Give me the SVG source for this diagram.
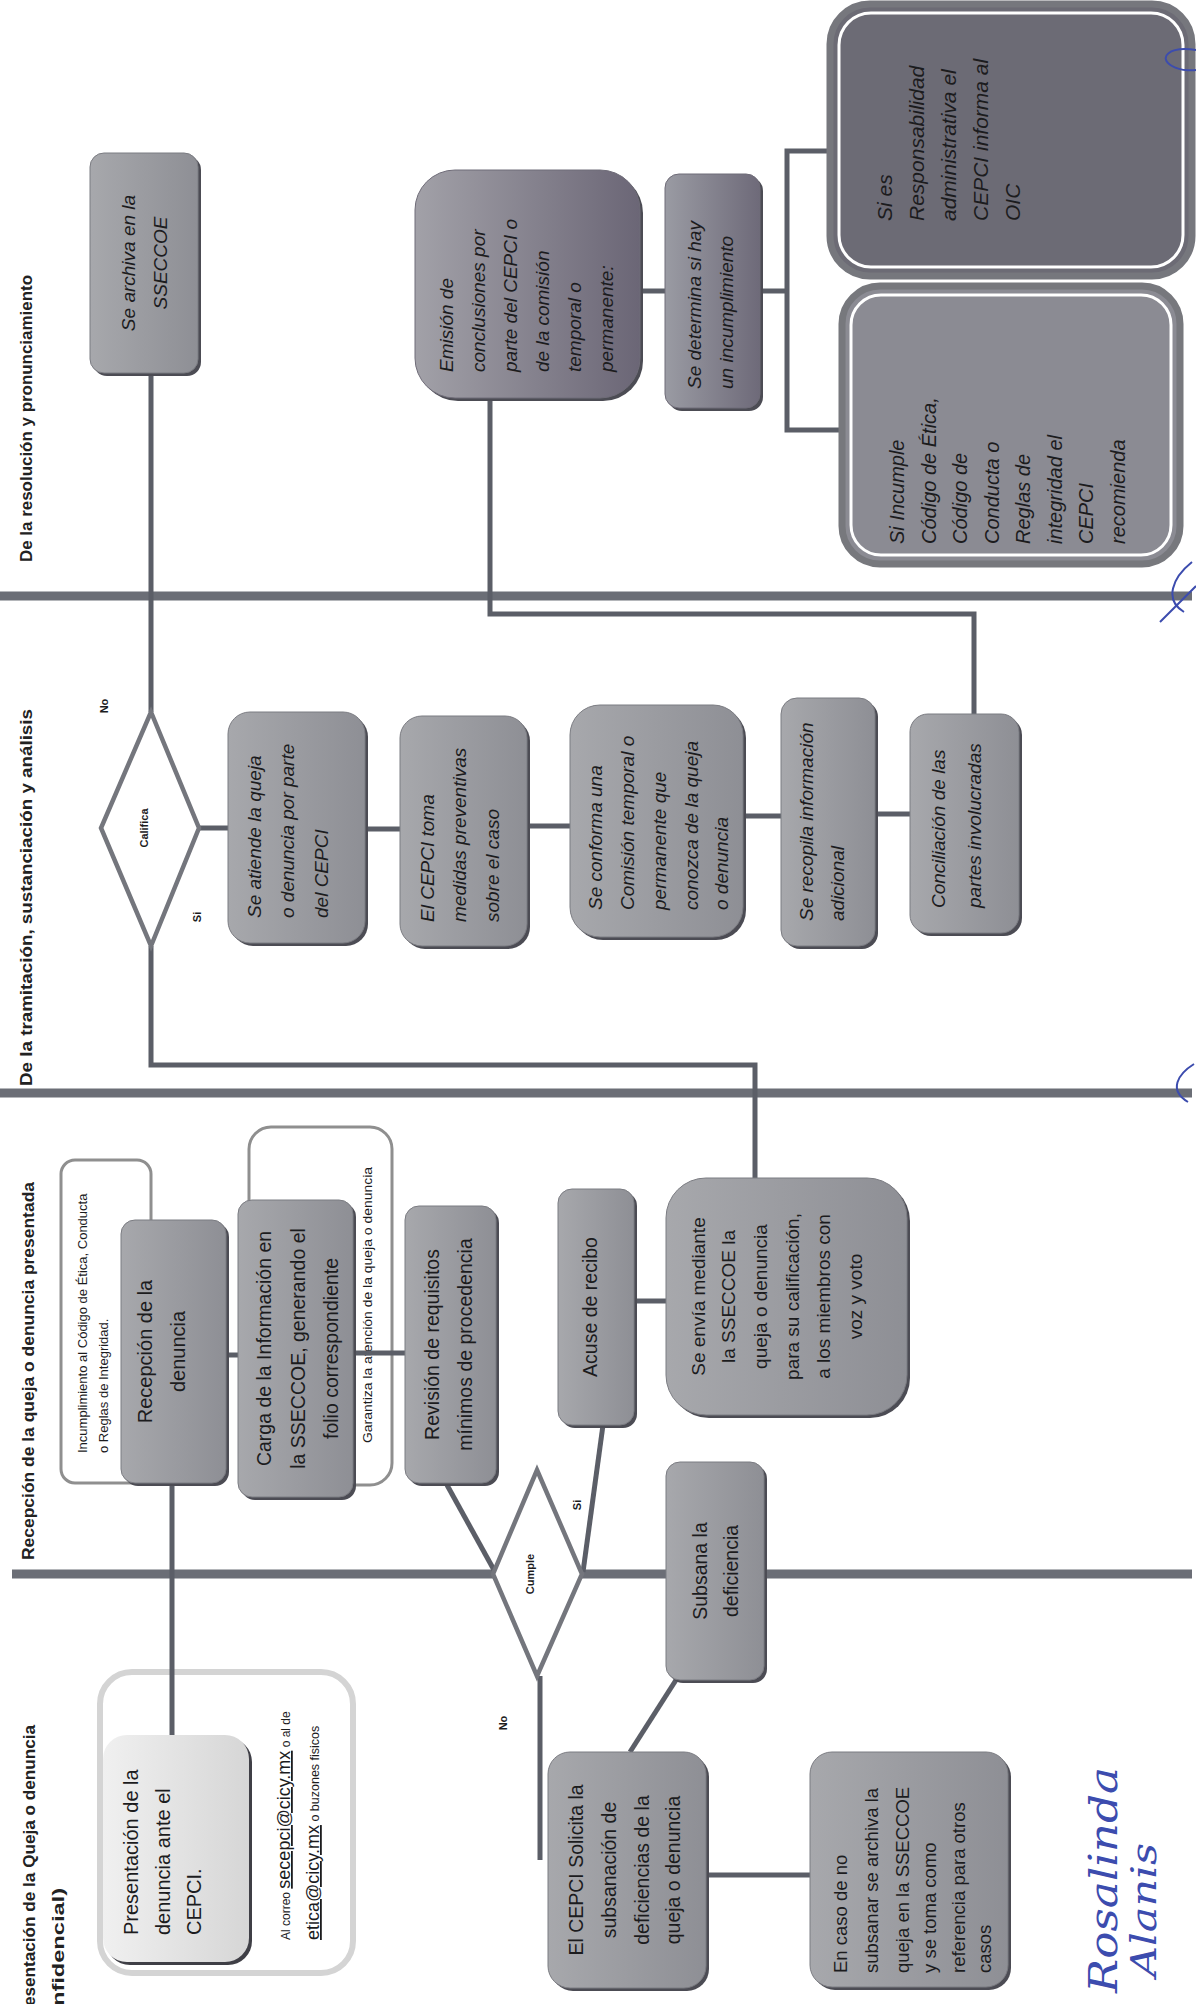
<svg xmlns="http://www.w3.org/2000/svg" width="1196" height="2004" viewBox="0 0 1196 2004">
<defs>
<linearGradient id="gBox" x1="0" y1="0" x2="1" y2="0"><stop offset="0" stop-color="#a7a8ac"/><stop offset="1" stop-color="#8e8f95"/></linearGradient>
<linearGradient id="gDark" x1="0" y1="0" x2="1" y2="0"><stop offset="0" stop-color="#a2a1a8"/><stop offset="1" stop-color="#6b6676"/></linearGradient>
<linearGradient id="gDet" x1="0" y1="0" x2="1" y2="0"><stop offset="0" stop-color="#9a9ba3"/><stop offset="1" stop-color="#6e6a79"/></linearGradient>
<linearGradient id="gLight" x1="0" y1="0" x2="1" y2="0"><stop offset="0" stop-color="#f0f0f0"/><stop offset="1" stop-color="#d6d6d6"/></linearGradient>
<style>
.t{font-family:"Liberation Sans",Arial,sans-serif;fill:#1c1c1e}
.i{font-style:italic}
.h{font-weight:bold;font-size:17px;fill:#222}
.lbl{font-weight:bold;font-size:11px}
.box{fill:url(#gBox);stroke:#7b7c82;stroke-width:1}
.sh{fill:#4c4c54}
.ln{stroke:#5b5e67;stroke-width:5;fill:none;stroke-linecap:butt;stroke-linejoin:miter}
.dv{stroke:#6b6e76;stroke-width:9}
.dia{fill:#fff;stroke:#74767d;stroke-width:4.5}
.note{fill:#fff;stroke:#8f8f8f;stroke-width:3}
.ink{stroke:#3c4cae;stroke-width:2;fill:none}
.sig{font-family:"DejaVu Serif",serif;font-style:italic;fill:#3c4cae}
</style>
</defs>
<rect width="1196" height="2004" fill="#fff"/>

<g id="lanes">
<line class="dv" x1="0" y1="596" x2="1192" y2="596"/>
<line class="dv" x1="0" y1="1093" x2="1192" y2="1093"/>
<line class="dv" x1="12" y1="1574" x2="1192" y2="1574"/>
<text class="t h" transform="translate(32,562) rotate(-90)" textLength="287" lengthAdjust="spacingAndGlyphs">De la resolución y pronunciamiento</text>
<text class="t h" transform="translate(32,1086) rotate(-90)" textLength="377" lengthAdjust="spacingAndGlyphs">De la tramitación, sustanciación y análisis</text>
<text class="t h" transform="translate(34,1560) rotate(-90)" textLength="378" lengthAdjust="spacingAndGlyphs">Recepción de la queja o denuncia presentada</text>
<text class="t h" transform="translate(35,2006) rotate(-90)" textLength="281" lengthAdjust="spacingAndGlyphs">esentación de la Queja o denuncia</text>
<text class="t h" transform="translate(64,2006) rotate(-90)" textLength="118" lengthAdjust="spacingAndGlyphs">nfidencial)</text>
</g>

<g id="n-incumplimiento">
<rect class="note" x="61" y="1160" width="90" height="323" rx="14"/>
<text class="t" font-size="13" transform="translate(106,1321.5) rotate(-90)"><tspan x="-131.5" y="-19.5">Incumplimiento al Código de Ética, Conducta</tspan><tspan x="-131.5" y="1.5">o Reglas de Integridad.</tspan></text>
</g>
<g id="n-garantiza">
<rect class="note" x="249" y="1127" width="143" height="358" rx="22"/>
<text class="t" font-size="13" text-anchor="middle" transform="translate(367,1305) rotate(-90)" y="4.5" textLength="276" lengthAdjust="spacingAndGlyphs">Garantiza la atención de la queja o denuncia</text>
</g>
<g id="n-presentacion-marco">
<rect x="100" y="1672" width="253" height="301" rx="32" fill="#fff" stroke="#d4d4d4" stroke-width="6"/>
<text class="t" transform="translate(290,1940) rotate(-90)"><tspan font-size="12">Al correo </tspan><tspan font-size="18" text-decoration="underline">secepci@cicy.mx</tspan><tspan font-size="12"> o al de</tspan></text>
<text class="t" transform="translate(319,1940) rotate(-90)"><tspan font-size="18" text-decoration="underline">etica@cicy.mx</tspan><tspan font-size="12.5">  o buzones fisicos</tspan></text>
</g>

<g id="connectors">
<path class="ln" d="M151 373 V712"/>
<path class="ln" d="M490 398 V614 H974 V714"/>
<path class="ln" d="M640 291 H665"/>
<path class="ln" d="M760 291 H787"/>
<path class="ln" d="M830 151 H787 V430 H842"/>
<path class="ln" d="M199 828 H228"/>
<path class="ln" d="M365 829 H400"/>
<path class="ln" d="M527 826 H570"/>
<path class="ln" d="M743 816 H781"/>
<path class="ln" d="M875 814 H910"/>
<path class="ln" d="M151 946 V1065 H755 V1178"/>
<path class="ln" d="M226 1355 H238"/>
<path class="ln" d="M353 1353 H405"/>
<path class="ln" d="M172 1483 V1735"/>
<path class="ln" d="M447 1485 L494 1570" stroke-width="6"/>
<path class="ln" d="M583 1572 L603 1425" stroke-width="6"/>
<path class="ln" d="M634 1301 H666"/>
<path class="ln" d="M540 1676 V1860"/>
<path class="ln" d="M676 1680 L630 1752"/>
<path class="ln" d="M706 1875 H810"/>
</g>

<g id="n-archiva">
<rect class="sh" x="93" y="156" width="108" height="220" rx="14"/>
<rect class="box" x="90" y="153" width="108" height="220" rx="14"/>
<text class="t i" font-size="19" text-anchor="middle" transform="translate(144,263) rotate(-90)"><tspan x="0" y="-9">Se archiva en la</tspan><tspan x="0" y="23">SSECCOE</tspan></text>
</g>
<g id="n-emision">
<rect class="sh" x="418" y="173" width="225" height="228" rx="40"/>
<rect x="415" y="170" width="225" height="228" rx="40" fill="url(#gDark)" stroke="#6f6c78" stroke-width="1"/>
<text class="t i" font-size="19" transform="translate(527,284) rotate(-90)"><tspan x="-88" y="-74">Emisión de</tspan><tspan x="-88" y="-42">conclusiones por</tspan><tspan x="-88" y="-10">parte del CEPCI o</tspan><tspan x="-88" y="22">de la comisión</tspan><tspan x="-88" y="54">temporal o</tspan><tspan x="-88" y="86">permanente:</tspan></text>
</g>
<g id="n-determina">
<rect class="sh" x="668" y="177" width="95" height="234" rx="14"/>
<rect x="665" y="174" width="95" height="234" rx="14" fill="url(#gDet)" stroke="#6f6c78" stroke-width="1"/>
<text class="t i" font-size="19" transform="translate(712,291) rotate(-90)"><tspan x="-98" y="-11">Se determina si hay</tspan><tspan x="-98" y="21">un incumplimiento</tspan></text>
</g>
<g id="n-responsabilidad">
<rect x="830" y="4" width="362" height="272" rx="40" fill="#6c6b75" stroke="#76777d" stroke-width="7"/>
<rect x="839" y="13" width="344" height="254" rx="32" fill="none" stroke="#fff" stroke-width="3"/>
<text class="t i" font-size="21" transform="translate(1011,140) rotate(-90)"><tspan x="-81" y="-119">Si es</tspan><tspan x="-81" y="-87">Responsabilidad</tspan><tspan x="-81" y="-55">administrativa el</tspan><tspan x="-81" y="-23">CEPCI informa al</tspan><tspan x="-81" y="9">OIC</tspan></text>
</g>
<g id="n-incumple">
<rect x="842" y="286" width="338" height="278" rx="38" fill="#8b8b93" stroke="#77787d" stroke-width="7"/>
<rect x="851" y="295" width="320" height="260" rx="30" fill="none" stroke="#fff" stroke-width="3"/>
<text class="t i" font-size="20" transform="translate(1011,425) rotate(-90)"><tspan x="-119" y="-107">Si Incumple</tspan><tspan x="-119" y="-75.5">Código de Ética,</tspan><tspan x="-119" y="-44">Código de</tspan><tspan x="-119" y="-12.5">Conducta o</tspan><tspan x="-119" y="19">Reglas de</tspan><tspan x="-119" y="50.5">integridad el</tspan><tspan x="-119" y="82">CEPCI</tspan><tspan x="-119" y="113.5">recomienda</tspan></text>
</g>

<g id="n-califica">
<polygon class="dia" points="151,712 199,828 151,946 101,828"/>
<text class="t lbl" text-anchor="middle" transform="translate(144,828) rotate(-90)" y="4">Califica</text>
<text class="t lbl" text-anchor="middle" transform="translate(104,706) rotate(-90)" y="4">No</text>
<text class="t lbl" text-anchor="middle" transform="translate(197,917) rotate(-90)" y="4">Si</text>
</g>
<g id="n-atiende">
<rect class="sh" x="231" y="715" width="137" height="231" rx="22"/>
<rect class="box" x="228" y="712" width="137" height="231" rx="22"/>
<text class="t i" font-size="19" transform="translate(296.5,827.5) rotate(-90)"><tspan x="-90.5" y="-36">Se atiende la queja</tspan><tspan x="-90.5" y="-3">o denuncia por parte</tspan><tspan x="-90.5" y="31">del CEPCI</tspan></text>
</g>
<g id="n-medidas">
<rect class="sh" x="403" y="719" width="127" height="230" rx="22"/>
<rect class="box" x="400" y="716" width="127" height="230" rx="22"/>
<text class="t i" font-size="19" transform="translate(463.5,831) rotate(-90)"><tspan x="-91" y="-30">El CEPCI toma</tspan><tspan x="-91" y="2">medidas preventivas</tspan><tspan x="-91" y="35">sobre el caso</tspan></text>
</g>
<g id="n-comision">
<rect class="sh" x="573" y="708" width="173" height="232" rx="30"/>
<rect class="box" x="570" y="705" width="173" height="232" rx="30"/>
<text class="t i" font-size="19" transform="translate(656.5,821) rotate(-90)"><tspan x="-89" y="-55">Se conforma una</tspan><tspan x="-89" y="-23">Comisión temporal o</tspan><tspan x="-89" y="9">permanente que</tspan><tspan x="-89" y="41">conozca de la queja</tspan><tspan x="-89" y="71">o denuncia</tspan></text>
</g>
<g id="n-recopila">
<rect class="sh" x="784" y="701" width="94" height="248" rx="16"/>
<rect class="box" x="781" y="698" width="94" height="248" rx="16"/>
<text class="t i" font-size="19" transform="translate(828,822) rotate(-90)"><tspan x="-99" y="-15">Se recopila información</tspan><tspan x="-99" y="16">adicional</tspan></text>
</g>
<g id="n-conciliacion">
<rect class="sh" x="913" y="717" width="109" height="219" rx="18"/>
<rect class="box" x="910" y="714" width="109" height="219" rx="18"/>
<text class="t i" font-size="19" transform="translate(964.5,823.5) rotate(-90)"><tspan x="-84.5" y="-20">Conciliación de las</tspan><tspan x="-84.5" y="16">partes involucradas</tspan></text>
</g>

<g id="n-recepcion">
<rect class="sh" x="124" y="1223" width="105" height="263" rx="14"/>
<rect class="box" x="121" y="1220" width="105" height="263" rx="14"/>
<text class="t" font-size="20" text-anchor="middle" transform="translate(173.5,1351.5) rotate(-90)"><tspan x="0" y="-21.5">Recepción de la</tspan><tspan x="0" y="11.5">denuncia</tspan></text>
</g>
<g id="n-carga">
<rect class="sh" x="241" y="1203" width="115" height="297" rx="14"/>
<rect class="box" x="238" y="1200" width="115" height="297" rx="14"/>
<text class="t" font-size="19.5" text-anchor="middle" transform="translate(295.5,1348.5) rotate(-90)"><tspan x="0" y="-25">Carga de la Información en</tspan><tspan x="0" y="9">la SSECCOE, generando el</tspan><tspan x="0" y="42">folio correspondiente</tspan></text>
</g>
<g id="n-revision">
<rect class="sh" x="408" y="1209" width="91" height="277" rx="14"/>
<rect class="box" x="405" y="1206" width="91" height="277" rx="14"/>
<text class="t" font-size="19.5" text-anchor="middle" transform="translate(450.5,1344.5) rotate(-90)"><tspan x="0" y="-12">Revisión de requisitos</tspan><tspan x="0" y="21">mínimos de procedencia</tspan></text>
</g>
<g id="n-acuse">
<rect class="sh" x="561" y="1192" width="76" height="236" rx="14"/>
<rect class="box" x="558" y="1189" width="76" height="236" rx="14"/>
<text class="t" font-size="19.5" text-anchor="middle" transform="translate(590,1307) rotate(-90)" y="7">Acuse de recibo</text>
</g>
<g id="n-envia">
<rect class="sh" x="669" y="1181" width="241" height="237" rx="40"/>
<rect class="box" x="666" y="1178" width="241" height="237" rx="40"/>
<text class="t" font-size="19" text-anchor="middle" transform="translate(786.5,1296.5) rotate(-90)"><tspan x="0" y="-82">Se envía mediante</tspan><tspan x="0" y="-52">la SSECCOE la</tspan><tspan x="0" y="-20">queja o denuncia</tspan><tspan x="0" y="12">para su calificación,</tspan><tspan x="0" y="43">a los miembros con</tspan><tspan x="0" y="75">voz y voto</tspan></text>
</g>
<g id="n-cumple">
<polygon class="dia" points="537,1470 582,1574 537,1676 493,1574"/>
<text class="t lbl" text-anchor="middle" transform="translate(530,1574) rotate(-90)" y="4">Cumple</text>
<text class="t lbl" text-anchor="middle" transform="translate(577,1505) rotate(-90)" y="4">Si</text>
<text class="t lbl" text-anchor="middle" transform="translate(503,1723) rotate(-90)" y="4">No</text>
</g>
<g id="n-subsana">
<rect class="sh" x="669" y="1465" width="98" height="218" rx="14"/>
<rect class="box" x="666" y="1462" width="98" height="218" rx="14"/>
<text class="t" font-size="19.5" text-anchor="middle" transform="translate(715,1571) rotate(-90)"><tspan x="0" y="-8">Subsana la</tspan><tspan x="0" y="23">deficiencia</tspan></text>
</g>
<g id="n-solicita">
<rect class="sh" x="551" y="1755" width="158" height="236" rx="22"/>
<rect class="box" x="548" y="1752" width="158" height="236" rx="22"/>
<text class="t" font-size="19.5" text-anchor="middle" transform="translate(627,1870) rotate(-90)"><tspan x="0" y="-44">El CEPCI Solicita la</tspan><tspan x="0" y="-11">subsanación de</tspan><tspan x="0" y="22">deficiencias de la</tspan><tspan x="0" y="53">queja o denuncia</tspan></text>
</g>
<g id="n-encaso">
<rect class="sh" x="813" y="1755" width="198" height="235" rx="22"/>
<rect class="box" x="810" y="1752" width="198" height="235" rx="22"/>
<text class="t" font-size="18.5" transform="translate(909,1869) rotate(-90)"><tspan x="-104" y="-62.5">En caso de no</tspan><tspan x="-104" y="-31.5">subsanar se archiva la</tspan><tspan x="-104" y="-0.5">queja en la SSECCOE</tspan><tspan x="-104" y="27">y se toma como</tspan><tspan x="-104" y="56">referencia para otros</tspan><tspan x="-104" y="82">casos</tspan></text>
</g>
<g id="n-presentacion">
<rect x="106" y="1738" width="146" height="227" rx="24" fill="#3f3f46"/>
<rect x="103" y="1735" width="146" height="227" rx="24" fill="url(#gLight)"/>
<text class="t" font-size="20" transform="translate(176,1851) rotate(-90)"><tspan x="-84" y="-38">Presentación de la</tspan><tspan x="-84" y="-6">denuncia ante el</tspan><tspan x="-84" y="25">CEPCI.</tspan></text>
</g>

<g id="firma">
<text class="sig" font-size="40" transform="translate(1117,1993) rotate(-90)" textLength="226" lengthAdjust="spacingAndGlyphs">Rosalinda</text>
<text class="sig" font-size="36" transform="translate(1156,1977) rotate(-90)" textLength="134" lengthAdjust="spacingAndGlyphs">Alanis</text>
<path class="ink" d="M1196 50 C1168 46 1158 58 1172 66 C1182 72 1196 70 1196 70"/>
<path class="ink" d="M1192 562 C1172 578 1164 600 1184 612 M1160 622 L1196 586"/>
<path class="ink" d="M1194 1064 C1178 1074 1168 1090 1188 1102"/>
</g>
</svg>
